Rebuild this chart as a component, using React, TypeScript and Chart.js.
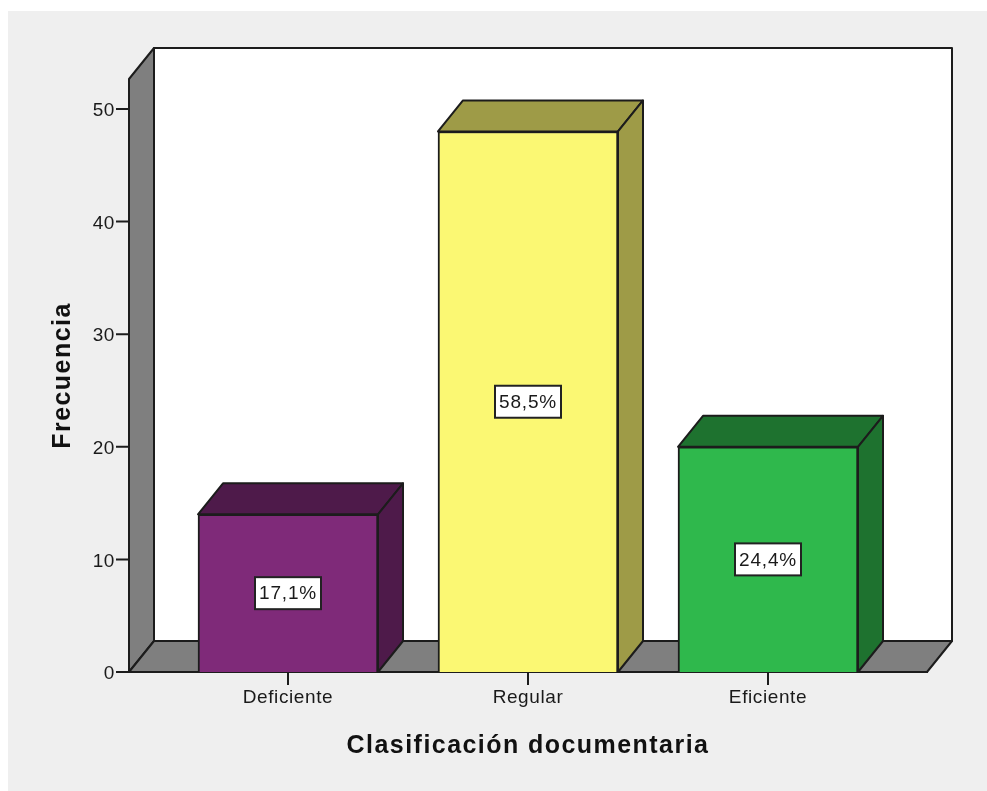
import React, { useEffect, useRef } from "react";
import { Chart, registerables } from "chart.js";

Chart.register(...registerables);

const categories = ["Deficiente", "Regular", "Eficiente"];
const frequencies = [14, 48, 20];
const percentLabels = ["17,1%", "58,5%", "24,4%"];
const frontColors = ["#7f2a79", "#fbf873", "#2fb84c"];
const shadeColors = ["#4e1a4a", "#9e9b47", "#1e722f"];
const yTicks = [0, 10, 20, 30, 40, 50];
const xTitle = "Clasificación documentaria";
const yTitle = "Frecuencia";

const DEPTH_X = 25;
const DEPTH_Y = 31;
const LINE = "#1c1c1c";
const WALL = "#7f7f7f";
const PANEL = "#efefef";
const FONT = "'Liberation Sans', Arial, sans-serif";
const TICK_SPACING = "0.6px";
const TITLE_SPACING = "1.45px";

function poly(ctx: CanvasRenderingContext2D, pts: number[][], fill: string) {
  ctx.beginPath();
  pts.forEach(([x, y], i) => (i ? ctx.lineTo(x, y) : ctx.moveTo(x, y)));
  ctx.closePath();
  ctx.fillStyle = fill;
  ctx.fill();
  ctx.stroke();
}

function spacedTitle(scale: any) {
  if (scale.__spaced) return;
  scale.__spaced = true;
  const original = scale.drawTitle.bind(scale);
  scale.drawTitle = () => {
    const ctx = scale.ctx as any;
    ctx.letterSpacing = TITLE_SPACING;
    original();
    ctx.letterSpacing = TICK_SPACING;
  };
}

const scenePlugin = {
  id: "scene",
  beforeDraw(chart: any) {
    const ctx = chart.ctx as any;
    ctx.letterSpacing = TICK_SPACING;
    ctx.save();
    ctx.fillStyle = PANEL;
    ctx.fillRect(8, 11, chart.width - 8, chart.height - 11);
    ctx.restore();
  },
  beforeDatasetsDraw(chart: any) {
    const ctx = chart.ctx as CanvasRenderingContext2D;
    const { left, right, top, bottom } = chart.chartArea;
    ctx.save();
    ctx.strokeStyle = LINE;
    ctx.lineWidth = 2;
    ctx.lineJoin = "round";
    poly(ctx, [[left + DEPTH_X, top - DEPTH_Y], [right + DEPTH_X, top - DEPTH_Y], [right + DEPTH_X, bottom - DEPTH_Y], [left + DEPTH_X, bottom - DEPTH_Y]], "#ffffff");
    poly(ctx, [[left, top], [left + DEPTH_X, top - DEPTH_Y], [left + DEPTH_X, bottom - DEPTH_Y], [left, bottom]], WALL);
    poly(ctx, [[left, bottom], [left + DEPTH_X, bottom - DEPTH_Y], [right + DEPTH_X, bottom - DEPTH_Y], [right, bottom]], WALL);
    const meta = chart.getDatasetMeta(0);
    meta.data.forEach((bar: any, i: number) => {
      const l = bar.x - bar.width / 2;
      const r = bar.x + bar.width / 2;
      poly(ctx, [[l, bar.y], [l + DEPTH_X, bar.y - DEPTH_Y], [r + DEPTH_X, bar.y - DEPTH_Y], [r, bar.y]], shadeColors[i]);
      poly(ctx, [[r, bar.y], [r + DEPTH_X, bar.y - DEPTH_Y], [r + DEPTH_X, bar.base - DEPTH_Y], [r, bar.base]], shadeColors[i]);
    });
    ctx.restore();
  },
  afterDatasetsDraw(chart: any) {
    const ctx = chart.ctx as any;
    const meta = chart.getDatasetMeta(0);
    ctx.save();
    ctx.font = `19px ${FONT}`;
    ctx.letterSpacing = "0.8px";
    ctx.textAlign = "center";
    ctx.textBaseline = "middle";
    meta.data.forEach((bar: any, i: number) => {
      const cy = (bar.y + bar.base) / 2;
      const w = 66;
      const h = 32;
      ctx.fillStyle = "#ffffff";
      ctx.strokeStyle = "#222222";
      ctx.lineWidth = 2;
      ctx.fillRect(bar.x - w / 2, cy - h / 2, w, h);
      ctx.strokeRect(bar.x - w / 2, cy - h / 2, w, h);
      ctx.fillStyle = "#1a1a1a";
      ctx.fillText(percentLabels[i], bar.x, cy + 1);
    });
    ctx.restore();
  },
};

export default function App() {
  const ref = useRef<HTMLCanvasElement>(null);
  useEffect(() => {
    const chart = new Chart(ref.current as HTMLCanvasElement, {
      type: "bar",
      data: {
        datasets: [
          {
            label: yTitle,
            data: frequencies.map((y, x) => ({ x, y })),
            backgroundColor: frontColors,
            borderColor: LINE,
            borderWidth: 2,
            barThickness: 180,
          },
        ],
      },
      options: {
        responsive: false,
        animation: false,
        layout: { padding: { top: 79, right: 60, left: 0, bottom: 0 } },
        plugins: { legend: { display: false }, tooltip: { enabled: false } },
        scales: {
          x: {
            type: "linear",
            min: -0.6625,
            max: 2.6625,
            offset: false,
            grid: { display: false, drawTicks: true },
            border: { display: true, color: LINE, width: 2 },
            afterBuildTicks: (s: any) => {
              s.ticks = categories.map((_, value) => ({ value }));
            },
            afterFit: (s: any) => {
              s.height = 119;
              spacedTitle(s);
            },
            ticks: {
              autoSkip: false,
              maxRotation: 0,
              padding: 6,
              color: "#1a1a1a",
              font: { family: FONT, size: 19 },
              callback: (v: any) => categories[v],
            },
            title: {
              display: true,
              text: xTitle,
              color: "#111111",
              font: { family: FONT, size: 25, weight: "bold" },
              padding: { top: 0, bottom: 30 },
            },
          },
          y: {
            min: 0,
            max: 52.66,
            grid: { display: false },
            border: { display: false },
            afterBuildTicks: (s: any) => {
              s.ticks = yTicks.map((value) => ({ value }));
            },
            afterFit: (s: any) => {
              s.width = 129;
              spacedTitle(s);
            },
            ticks: {
              padding: 6,
              labelOffset: 2,
              color: "#1a1a1a",
              font: { family: FONT, size: 19 },
            },
            title: {
              display: true,
              text: yTitle,
              color: "#111111",
              font: { family: FONT, size: 25, weight: "bold" },
              padding: { top: 48, bottom: 0 },
            },
          },
        },
      },
      plugins: [
        scenePlugin,
        {
          id: "tickMarks",
          afterDraw(chart: any) {
            const ctx = chart.ctx as CanvasRenderingContext2D;
            const { left, bottom } = chart.chartArea;
            ctx.save();
            ctx.strokeStyle = LINE;
            ctx.lineWidth = 2;
            ctx.beginPath();
            chart.scales.y.ticks.forEach((t: any) => {
              const y = chart.scales.y.getPixelForValue(t.value);
              ctx.moveTo(left - 13, y);
              ctx.lineTo(left, y);
            });
            chart.scales.x.ticks.forEach((t: any) => {
              const x = chart.scales.x.getPixelForValue(t.value);
              ctx.moveTo(x, bottom);
              ctx.lineTo(x, bottom + 13);
            });
            ctx.stroke();
            ctx.restore();
          },
        },
      ],
    } as any);
    return () => chart.destroy();
  }, []);
  return (
    <div style={{ position: "absolute", left: 0, top: 0, width: 987, height: 791, background: "#ffffff", overflow: "hidden" }}>
      <canvas ref={ref} width={987} height={791} style={{ display: "block", filter: "blur(0.45px)" }} />
    </div>
  );
}
